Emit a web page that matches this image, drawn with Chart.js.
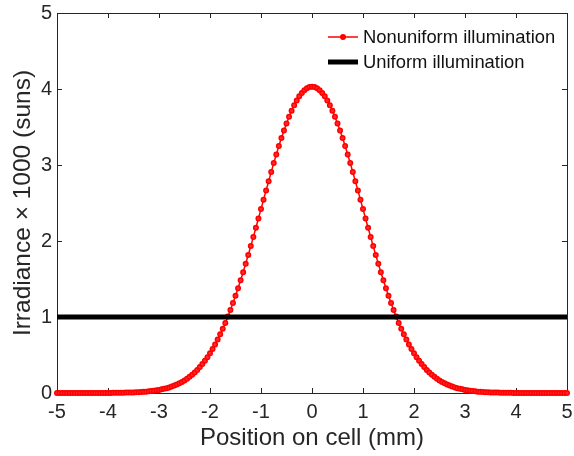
<!DOCTYPE html>
<html>
<head>
<meta charset="utf-8">
<script src="https://cdn.jsdelivr.net/npm/chart.js@4.4.1/dist/chart.umd.min.js"></script>
<style>
  html, body { margin: 0; padding: 0; background: #ffffff; }
  #wrap { width: 574px; height: 456px; }
</style>
</head>
<body>
<div id="wrap"><canvas id="c" width="574" height="456"></canvas></div>
<script>
// Position along the cell (mm)
const positions = [
  -5.00,-4.95,-4.90,-4.85,-4.80,-4.75,-4.70,-4.65,-4.60,-4.55,
  -4.50,-4.45,-4.40,-4.35,-4.30,-4.25,-4.20,-4.15,-4.10,-4.05,
  -4.00,-3.95,-3.90,-3.85,-3.80,-3.75,-3.70,-3.65,-3.60,-3.55,
  -3.50,-3.45,-3.40,-3.35,-3.30,-3.25,-3.20,-3.15,-3.10,-3.05,
  -3.00,-2.95,-2.90,-2.85,-2.80,-2.75,-2.70,-2.65,-2.60,-2.55,
  -2.50,-2.45,-2.40,-2.35,-2.30,-2.25,-2.20,-2.15,-2.10,-2.05,
  -2.00,-1.95,-1.90,-1.85,-1.80,-1.75,-1.70,-1.65,-1.60,-1.55,
  -1.50,-1.45,-1.40,-1.35,-1.30,-1.25,-1.20,-1.15,-1.10,-1.05,
  -1.00,-0.95,-0.90,-0.85,-0.80,-0.75,-0.70,-0.65,-0.60,-0.55,
  -0.50,-0.45,-0.40,-0.35,-0.30,-0.25,-0.20,-0.15,-0.10,-0.05,
   0.00,
   0.05, 0.10, 0.15, 0.20, 0.25, 0.30, 0.35, 0.40, 0.45, 0.50,
   0.55, 0.60, 0.65, 0.70, 0.75, 0.80, 0.85, 0.90, 0.95, 1.00,
   1.05, 1.10, 1.15, 1.20, 1.25, 1.30, 1.35, 1.40, 1.45, 1.50,
   1.55, 1.60, 1.65, 1.70, 1.75, 1.80, 1.85, 1.90, 1.95, 2.00,
   2.05, 2.10, 2.15, 2.20, 2.25, 2.30, 2.35, 2.40, 2.45, 2.50,
   2.55, 2.60, 2.65, 2.70, 2.75, 2.80, 2.85, 2.90, 2.95, 3.00,
   3.05, 3.10, 3.15, 3.20, 3.25, 3.30, 3.35, 3.40, 3.45, 3.50,
   3.55, 3.60, 3.65, 3.70, 3.75, 3.80, 3.85, 3.90, 3.95, 4.00,
   4.05, 4.10, 4.15, 4.20, 4.25, 4.30, 4.35, 4.40, 4.45, 4.50,
   4.55, 4.60, 4.65, 4.70, 4.75, 4.80, 4.85, 4.90, 4.95, 5.00
];

// Irradiance (x 1000 suns) under the concentrated, nonuniform profile
const nonuniform = [
  0, 0, 0, 0, 0, 0, 0, 0, 0, 0,
  0, 0, 0, 0, 0, 0, 0, 0.001, 0.001, 0.001,
  0.001, 0.001, 0.002, 0.002, 0.003, 0.003, 0.004, 0.005, 0.005, 0.006,
  0.008, 0.009, 0.011, 0.013, 0.016, 0.018, 0.022, 0.026, 0.030, 0.035,
  0.041, 0.048, 0.055, 0.064, 0.074, 0.085, 0.098, 0.112, 0.128, 0.146,
  0.166, 0.188, 0.213, 0.241, 0.271, 0.304, 0.341, 0.381, 0.425, 0.472,
  0.524, 0.579, 0.639, 0.703, 0.772, 0.845, 0.922, 1.005, 1.092, 1.183,
  1.279, 1.379, 1.483, 1.590, 1.702, 1.816, 1.933, 2.052, 2.174, 2.296,
  2.420, 2.543, 2.666, 2.787, 2.907, 3.025, 3.139, 3.249, 3.354, 3.454,
  3.547, 3.634, 3.714, 3.786, 3.849, 3.904, 3.949, 3.984, 4.009, 4.025,
  4.030,
  4.025, 4.009, 3.984, 3.949, 3.904, 3.849, 3.786, 3.714, 3.634, 3.547,
  3.454, 3.354, 3.249, 3.139, 3.025, 2.907, 2.787, 2.666, 2.543, 2.420,
  2.296, 2.174, 2.052, 1.933, 1.816, 1.702, 1.590, 1.483, 1.379, 1.279,
  1.183, 1.092, 1.005, 0.922, 0.845, 0.772, 0.703, 0.639, 0.579, 0.524,
  0.472, 0.425, 0.381, 0.341, 0.304, 0.271, 0.241, 0.213, 0.188, 0.166,
  0.146, 0.128, 0.112, 0.098, 0.085, 0.074, 0.064, 0.055, 0.048, 0.041,
  0.035, 0.030, 0.026, 0.022, 0.018, 0.016, 0.013, 0.011, 0.009, 0.008,
  0.006, 0.005, 0.005, 0.004, 0.003, 0.003, 0.002, 0.002, 0.001, 0.001,
  0.001, 0.001, 0.001, 0, 0, 0, 0, 0, 0, 0,
  0, 0, 0, 0, 0, 0, 0, 0, 0, 0
];

// Uniform illumination reference level
const uniformPositions = [-5, 5];
const uniform = [1, 1];

const xTicks = [-5, -4, -3, -2, -1, 0, 1, 2, 3, 4, 5];
const yTicks = [0, 1, 2, 3, 4, 5];

const seriesNames = ['Nonuniform illumination', 'Uniform illumination'];
const axisTitles = { x: 'Position on cell (mm)', y: 'Irradiance \u00d7 1000 (suns)' };

const FONT = '"Liberation Sans", Arial, Helvetica, sans-serif';
const AXIS_COLOR = '#262626';
const RED = '#ff0000';

// Box around the axes with inward tick marks on all four sides
const axesBox = {
  id: 'axesBox',
  beforeDatasetsDraw(chart) {
    const { ctx, chartArea: a, scales } = chart;
    const tl = 5;
    ctx.save();
    ctx.strokeStyle = AXIS_COLOR;
    ctx.lineWidth = 1;
    ctx.beginPath();
    ctx.rect(Math.round(a.left) + 0.5, Math.round(a.top) + 0.5,
             Math.round(a.right - a.left), Math.round(a.bottom - a.top));
    ctx.stroke();
    ctx.beginPath();
    xTicks.forEach(v => {
      const px = Math.round(scales.x.getPixelForValue(v)) + 0.5;
      ctx.moveTo(px, a.bottom); ctx.lineTo(px, a.bottom - tl);
      ctx.moveTo(px, a.top); ctx.lineTo(px, a.top + tl);
    });
    yTicks.forEach(v => {
      const py = Math.round(scales.y.getPixelForValue(v)) + 0.5;
      ctx.moveTo(a.left, py); ctx.lineTo(a.left + tl, py);
      ctx.moveTo(a.right, py); ctx.lineTo(a.right - tl, py);
    });
    ctx.stroke();
    ctx.restore();
  }
};

// Legend in the upper-right corner of the axes, styled from the datasets
const insideLegend = {
  id: 'insideLegend',
  afterDraw(chart) {
    const { ctx } = chart;
    const x0 = 328, x1 = 358, tx = 363;
    const rows = [37, 62];
    ctx.save();
    ctx.font = '18.4px ' + FONT;
    ctx.textBaseline = 'middle';
    ctx.textAlign = 'left';
    chart.data.datasets.forEach((ds, i) => {
      const y = rows[i];
      ctx.strokeStyle = ds.borderColor;
      ctx.lineWidth = ds.borderWidth;
      ctx.beginPath();
      ctx.moveTo(x0, y); ctx.lineTo(x1, y);
      ctx.stroke();
      if (ds.pointRadius > 0) {
        ctx.fillStyle = ds.pointBorderColor;
        ctx.beginPath();
        ctx.arc((x0 + x1) / 2, y, ds.pointRadius + ds.pointBorderWidth / 2, 0, Math.PI * 2);
        ctx.fill();
      }
      ctx.fillStyle = '#111111';
      ctx.fillText(ds.label, tx, y + 1);
    });
    ctx.restore();
  }
};

// Invisible tick marks give the label gap without widening the edge padding
const hiddenTicks = (len) => ({
  display: true, drawOnChartArea: false, drawTicks: true,
  tickLength: len, tickColor: 'rgba(0,0,0,0)', color: 'rgba(0,0,0,0)'
});

new Chart(document.getElementById('c'), {
  type: 'scatter',
  data: {
    datasets: [
      {
        label: seriesNames[0],
        data: positions.map((x, i) => ({ x, y: nonuniform[i] })),
        showLine: true,
        borderColor: RED,
        backgroundColor: RED,
        borderWidth: 1.5,
        pointRadius: 2.25,
        pointBorderWidth: 1.5,
        pointBackgroundColor: '#ff2a2a',
        pointBorderColor: RED,
        pointHoverRadius: 2.25,
        clip: false,
        order: 2
      },
      {
        label: seriesNames[1],
        data: uniformPositions.map((x, i) => ({ x, y: uniform[i] })),
        showLine: true,
        borderColor: '#000000',
        backgroundColor: '#000000',
        borderWidth: 5,
        pointRadius: 0,
        pointBorderWidth: 0,
        clip: false,
        order: 1
      }
    ]
  },
  options: {
    responsive: false,
    animation: false,
    devicePixelRatio: 1,
    layout: { padding: { top: 13, right: 7, left: 0, bottom: 0 } },
    plugins: { legend: { display: false }, tooltip: { enabled: false } },
    scales: {
      x: {
        type: 'linear',
        min: -5, max: 5,
        afterBuildTicks(scale) { scale.ticks = xTicks.map(v => ({ value: v })); },
        afterFit(scale) { scale.height = 63; },
        grid: hiddenTicks(7),
        border: { display: false },
        ticks: { padding: 0, color: AXIS_COLOR, font: { family: FONT, size: 20 } },
        title: { display: true, text: axisTitles.x, color: AXIS_COLOR, padding: { top: 0, bottom: 3 },
                 font: { family: FONT, size: 24 } }
      },
      y: {
        type: 'linear',
        min: 0, max: 5,
        afterBuildTicks(scale) { scale.ticks = yTicks.map(v => ({ value: v })); },
        afterFit(scale) { scale.width = 57; },
        grid: hiddenTicks(5),
        border: { display: false },
        ticks: { padding: 0, color: AXIS_COLOR, font: { family: FONT, size: 20 } },
        title: { display: true, text: axisTitles.y, color: AXIS_COLOR, padding: { top: 9, bottom: 0 },
                 font: { family: FONT, size: 24.5 } }
      }
    }
  },
  plugins: [axesBox, insideLegend]
});
</script>
</body>
</html>
